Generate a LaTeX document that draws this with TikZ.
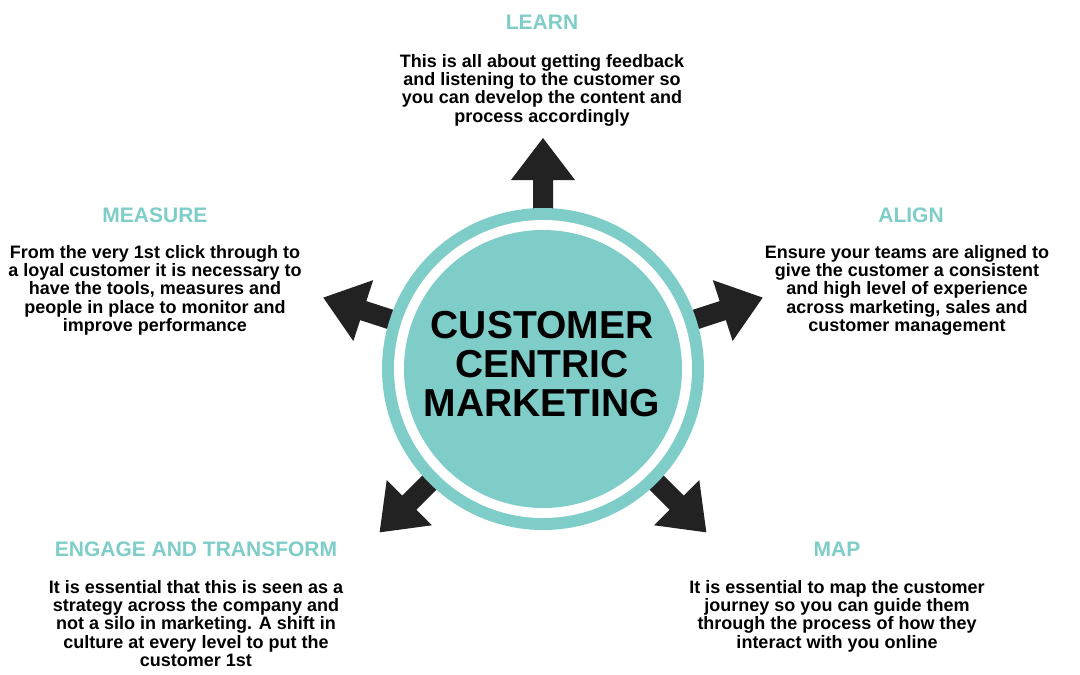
\documentclass[tikz,border=0pt]{standalone}
\usepackage{fontspec}
\setmainfont{Liberation Sans}
\begin{document}
\begin{tikzpicture}[x=1pt,y=-1pt,
  head/.style={font=\bfseries\fontsize{21}{24}\selectfont,text=teal1,anchor=center},
  body/.style={font=\bfseries\fontsize{18}{18.3}\selectfont,align=center,anchor=north,inner sep=0pt}]
\definecolor{teal1}{HTML}{7ECDC8}
\definecolor{dark}{HTML}{222222}
\useasboundingbox (0,0) rectangle (1080,675);
\coordinate (c) at (543,369);
\foreach \a in {90,18,-45,-135,162}{
  \begin{scope}[shift={(543,369)},rotate=\a]
  \fill[dark] (140,-10) -- (189,-10) -- (189,-32) -- (231,0) -- (189,32) -- (189,10) -- (140,10) -- cycle;
  \end{scope}
}
\fill[teal1] (c) circle (161);
\fill[white] (c) circle (149);
\node[circle,fill=teal1,minimum size=278,inner sep=0pt] (core) at (c) {};
\node[align=center,font=\bfseries\fontsize{39}{39}\selectfont] (title) at (542,364) {CUSTOMER\\CENTRIC\\MARKETING};
\node[head] (hl) at (542,22) {LEARN};
\node[body] (bl) at (542,54) {This is all about getting feedback\\and listening to the customer so\\you can develop the content and\\process accordingly};
\node[head] (hm) at (155,215) {MEASURE};
\node[body] (bm) at (155,245) {From the very 1st click through to\\a loyal customer it is necessary to\\have the tools, measures and\\people in place to monitor and\\improve performance};
\node[head] (ha) at (911,215) {ALIGN};
\node[body] (ba) at (907,245) {Ensure your teams are aligned to\\give the customer a consistent\\and high level of experience\\across marketing, sales and\\customer management};
\node[head] (he) at (196,549) {ENGAGE AND TRANSFORM};
\node[body] (be) at (196,580) {It is essential that this is seen as a\\strategy across the company and\\not a silo in marketing. A shift in\\culture at every level to put the\\customer 1st};
\node[head] (hp) at (837,549) {MAP};
\node[body] (bp) at (837,580) {It is essential to map the customer\\journey so you can guide them\\through the process of how they\\interact with you online};
\end{tikzpicture}
\end{document}
